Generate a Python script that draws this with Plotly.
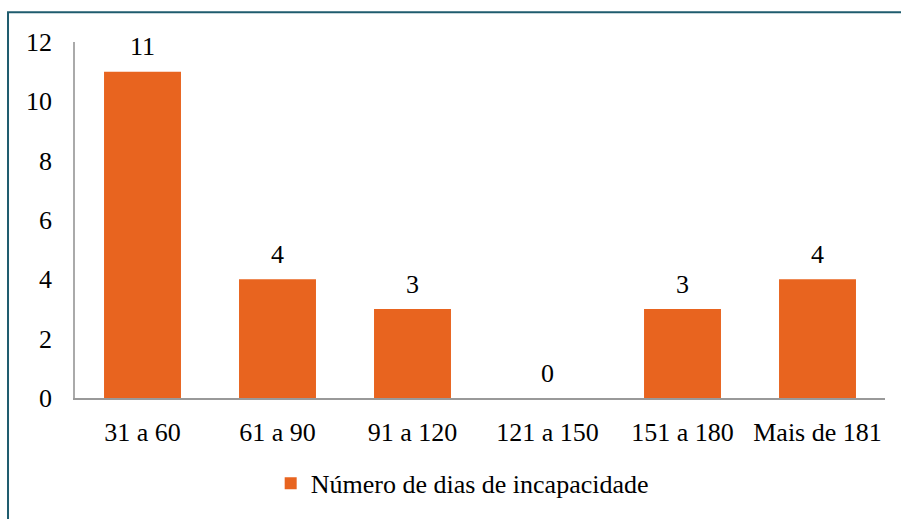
import plotly.graph_objects as go

categorias = ["31 a 60", "61 a 90", "91 a 120", "121 a 150", "151 a 180", "Mais de 181"]
valores = [11, 4, 3, 0, 3, 4]
serie_nome = "Número de dias de incapacidade"
y_ticks = [0, 2, 4, 6, 8, 10, 12]

LARANJA = "#E8641F"
FONTE = dict(family="Liberation Serif", size=26, color="#000000")

fig = go.Figure()
fig.add_trace(go.Bar(
    x=categorias, y=valores, name=serie_nome,
    marker=dict(color=LARANJA, line=dict(width=0)),
))

# rótulos de dados acima das barras
for cat, v in zip(categorias, valores):
    fig.add_annotation(x=cat, y=v, text=str(v), showarrow=False,
                       yanchor="middle", yshift=25, font=FONTE)

fig.update_layout(
    width=901, height=519,
    margin=dict(l=75, r=16, t=42, b=118),
    paper_bgcolor="white", plot_bgcolor="white",
    font=FONTE,
    bargap=0.43,
    showlegend=True,
    legend=dict(orientation="h", x=0.478, xanchor="center", y=-0.24, yanchor="middle",
                font=FONTE, itemwidth=30),
)
fig.update_xaxes(showline=True, linecolor="#999999", linewidth=2, showgrid=False,
                 ticks="", ticklabelstandoff=10, tickfont=FONTE)
fig.update_yaxes(range=[0, 12], tickvals=y_ticks, showline=True, linecolor="#AAAAAA",
                 linewidth=1.5, showgrid=False, zeroline=False, ticks="",
                 ticklabelstandoff=16, tickfont=FONTE)

# moldura do gráfico
fig.add_shape(type="rect", xref="paper", yref="paper",
              x0=-0.0827, y0=-0.36, x1=1.03, y1=1.0836,
              line=dict(color="#1F5C6E", width=2), fillcolor="rgba(0,0,0,0)", layer="below")

fig.write_html("out.html", config={"displayModeBar": False},
               post_script="document.body.style.margin='0';")
